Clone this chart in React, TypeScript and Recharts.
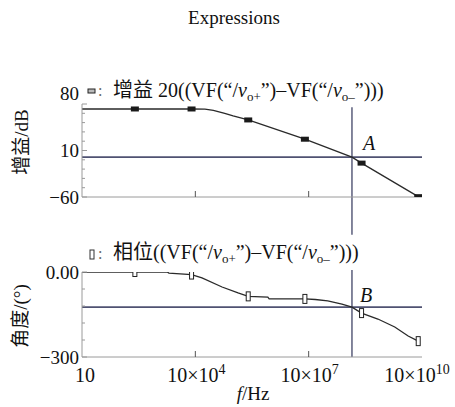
import React from 'react';
import { LineChart, Line, XAxis, YAxis, ReferenceLine } from 'recharts';

const FONT = '"Liberation Serif", "Times New Roman", "Noto Sans CJK SC", serif';
const AXIS = '#9a9a9a';
const REF = '#4f5272';
const CURVE = '#2a2a2a';

// x axis
const xTicks = [10, 1e4, 1e7, 1e10];
const xTickBase = ['10', '10×10', '10×10', '10×10'];
const xTickSup = ['', '4', '7', '10'];

// gain curve (Hz, dB)
const gainFreq = [10, 251, 7943, 1.8e4, 3e4, 6e4, 1e5, 251189, 7943282, 1.4e8, 251188643, 7943282347];
const gainDb = [72.5, 72.5, 72.5, 72.3, 70.5, 66, 62, 56, 27, 0, -9, -59.5];
const gainMarkFreq = [251, 7943, 251189, 7943282, 251188643, 7943282347];
const gainMarkDb = [72.5, 72.5, 56, 27, -9, -59.5];

// phase curve (Hz, degrees)
const phaseFreq = [10, 251, 1.8e3, 2e3, 7943, 1.5e4, 5.1e4, 1.35e5, 251189, 8.3e5, 9e5, 7943282, 1.5e7, 3.2e7, 7.6e7, 1.4e8, 251188643, 6.8e8, 1.9e9, 4.3e9, 7943282347];
const phaseDeg = [0, 0, 0, -4, -9, -21, -53, -74, -86, -89, -95, -95, -97, -102, -113, -124, -145, -166, -194, -226, -244];
const phaseMarkFreq = [251, 7943, 251189, 7943282, 251188643, 7943282347];
const phaseMarkDeg = [0, -9, -86, -95, -145, -244];

// crossing point and reference levels
const crossFreq = 1.4e8;
const gainRef = 0;
const phaseRef = -124;

// y ticks
const gainTicks = [80, 66, 52, 38, 24, 10, -4, -18, -32, -46, -60];
const gainMajor: Record<string, string> = { '80': '80', '10': '10', '-60': '−60' };
const phaseTicks = [0, -60, -120, -180, -240, -300];
const phaseMajor: Record<string, string> = { '0': '0.00', '-300': '−300' };

const gainData = gainFreq.map((f, i) => ({ f, v: gainDb[i] }));
const gainMarks = gainMarkFreq.map((f, i) => ({ f, v: gainMarkDb[i] }));
const phaseData = phaseFreq.map((f, i) => ({ f, v: phaseDeg[i] }));
const phaseMarks = phaseMarkFreq.map((f, i) => ({ f, v: phaseMarkDeg[i] }));

const GainMarker = (p: any) =>
  p.cx == null ? <g /> : <rect key={p.index} x={p.cx - 4} y={p.cy - 2.5} width={8} height={5} fill="#1a1a1a" />;
const PhaseMarker = (p: any) =>
  p.cx == null ? <g /> : (
    <rect key={p.index} x={p.cx - 2} y={p.cy - 4.5} width={4} height={9} fill="#fff" stroke="#222" strokeWidth={1} />
  );

const makeYTick = (major: Record<string, string>, topValue: number) => (props: any) => {
  const { x, y, payload } = props;
  const label = major[String(payload.value)];
  return (
    <g>
      <line x1={x} x2={x + (label !== undefined ? 5 : 3)} y1={y} y2={y} stroke={AXIS} strokeWidth={1} />
      {label !== undefined && (
        <text
          x={x - 3}
          y={y + (payload.value === topValue && topValue === 80 ? -11 : 0)}
          textAnchor="end"
          dominantBaseline="central"
          fontFamily={FONT}
          fontSize={19}
          fill="#111"
        >
          {label}
        </text>
      )}
    </g>
  );
};

const idxOf = (v: number) => xTicks.findIndex((t) => Math.abs(Math.log10(t) - Math.log10(v)) < 1e-6);

const XTickTop = (props: any) => {
  const { x, y, payload } = props;
  const i = idxOf(payload.value);
  return <g>{i === 1 || i === 2 ? <line x1={x} x2={x} y1={y} y2={y - 6} stroke="#555" /> : null}</g>;
};

const XTickBottom = (props: any) => {
  const { x, y, payload } = props;
  const i = idxOf(payload.value);
  const dx = i === 0 ? 3 : i === 3 ? -5 : 1;
  return (
    <g>
      {i === 1 || i === 2 ? <line x1={x} x2={x} y1={y} y2={y - 6} stroke="#555" /> : null}
      <text x={x + dx} y={y + 25} textAnchor="middle" fontFamily={FONT} fontSize={20} fill="#111">
        {xTickBase[i]}
        {xTickSup[i] ? (
          <tspan dy={-8} fontSize={14}>
            {xTickSup[i]}
          </tspan>
        ) : null}
      </text>
    </g>
  );
};

const Expr = ({ x, y, prefix }: { x: number; y: number; prefix: string }) => (
  <text x={x} y={y} fontFamily={FONT} fontSize={20} fill="#111">
    {prefix}((VF(“/
    <tspan fontStyle="italic">v</tspan>
    <tspan fontSize={13} dy={4}>o+</tspan>
    <tspan dy={-4}>”)–VF(“/</tspan>
    <tspan fontStyle="italic">v</tspan>
    <tspan fontSize={13} dy={4}>o–</tspan>
    <tspan dy={-4}>”)))</tspan>
  </text>
);

export default function App() {
  return (
    <div style={{ position: 'absolute', left: 0, top: 0, width: 455, height: 407, background: '#fff' }}>
      <div style={{ position: 'absolute', left: 0, top: 0 }}>
        <LineChart width={455} height={407} margin={{ top: 104, right: 33, bottom: 180, left: 22 }}>
          <XAxis
            dataKey="f"
            type="number"
            scale="log"
            domain={[10, 1e10]}
            ticks={xTicks}
            interval={0}
            tickSize={0}
            tickMargin={0}
            tickLine={false}
            height={30}
            axisLine={{ stroke: AXIS }}
            tick={<XTickTop />}
            allowDataOverflow
          />
          <YAxis
            type="number"
            domain={[-60, 80]}
            ticks={gainTicks}
            interval={0}
            width={60}
            tickSize={0}
            tickMargin={0}
            tickLine={false}
            axisLine={{ stroke: AXIS }}
            tick={makeYTick(gainMajor, 80)}
            allowDataOverflow
          />
          <ReferenceLine y={gainRef} stroke={REF} strokeWidth={1.6} />
          <ReferenceLine
            segment={[{ x: crossFreq, y: 75 }, { x: crossFreq, y: -117 }]}
            stroke={REF}
            strokeWidth={1.4}
            ifOverflow="visible"
          />
          <Line data={gainData} dataKey="v" stroke={CURVE} strokeWidth={1.3} dot={false} isAnimationActive={false} />
          <Line data={gainMarks} dataKey="v" stroke="none" dot={GainMarker} activeDot={false} isAnimationActive={false} />
        </LineChart>
      </div>
      <div style={{ position: 'absolute', left: 0, top: 0 }}>
        <LineChart width={455} height={407} margin={{ top: 272, right: 33, bottom: 0, left: 22 }}>
          <XAxis
            dataKey="f"
            type="number"
            scale="log"
            domain={[10, 1e10]}
            ticks={xTicks}
            interval={0}
            tickSize={0}
            tickMargin={0}
            tickLine={false}
            height={50}
            axisLine={{ stroke: AXIS }}
            tick={<XTickBottom />}
            allowDataOverflow
          />
          <YAxis
            type="number"
            domain={[-300, 0]}
            ticks={phaseTicks}
            interval={0}
            width={60}
            tickSize={0}
            tickMargin={0}
            tickLine={false}
            axisLine={{ stroke: AXIS }}
            tick={makeYTick(phaseMajor, 0)}
            allowDataOverflow
          />
          <ReferenceLine y={phaseRef} stroke={REF} strokeWidth={1.6} />
          <ReferenceLine
            segment={[{ x: crossFreq, y: 7 }, { x: crossFreq, y: -300 }]}
            stroke={REF}
            strokeWidth={1.4}
            ifOverflow="visible"
          />
          <Line data={phaseData} dataKey="v" stroke={CURVE} strokeWidth={1.3} dot={false} isAnimationActive={false} />
          <Line data={phaseMarks} dataKey="v" stroke="none" dot={PhaseMarker} activeDot={false} isAnimationActive={false} />
        </LineChart>
      </div>
      <svg
        width={455}
        height={407}
        style={{ position: 'absolute', left: 0, top: 0, pointerEvents: 'none' }}
      >
        <text x={234} y={24} textAnchor="middle" fontFamily={FONT} fontSize={19} fill="#111">
          Expressions
        </text>
        <rect x={88} y={89} width={7} height={4} fill="#bbb" stroke="#222" strokeWidth={1} />
        <text x={98} y={96} fontFamily={FONT} fontSize={16} fill="#666">:</text>
        <Expr x={113} y={97} prefix="增益 20" />
        <rect x={90} y={250} width={4} height={9} fill="#fff" stroke="#333" strokeWidth={1} />
        <text x={98} y={259} fontFamily={FONT} fontSize={16} fill="#666">:</text>
        <Expr x={113} y={259} prefix="相位" />
        <text x={363} y={150} fontFamily={FONT} fontSize={20} fontStyle="italic" fill="#111">A</text>
        <text x={360} y={302} fontFamily={FONT} fontSize={20} fontStyle="italic" fill="#111">B</text>
        <text
          x={21}
          y={142}
          transform="rotate(-90 21 142)"
          textAnchor="middle"
          dominantBaseline="central"
          fontFamily={FONT}
          fontSize={19}
          fill="#111"
        >
          增益/dB
        </text>
        <text
          x={20}
          y={316}
          transform="rotate(-90 20 316)"
          textAnchor="middle"
          dominantBaseline="central"
          fontFamily={FONT}
          fontSize={19}
          fill="#111"
        >
          角度/(°)
        </text>
        <text x={253} y={400} textAnchor="middle" fontFamily={FONT} fontSize={19} fill="#111">
          <tspan fontStyle="italic">f</tspan>/Hz
        </text>
      </svg>
    </div>
  );
}
